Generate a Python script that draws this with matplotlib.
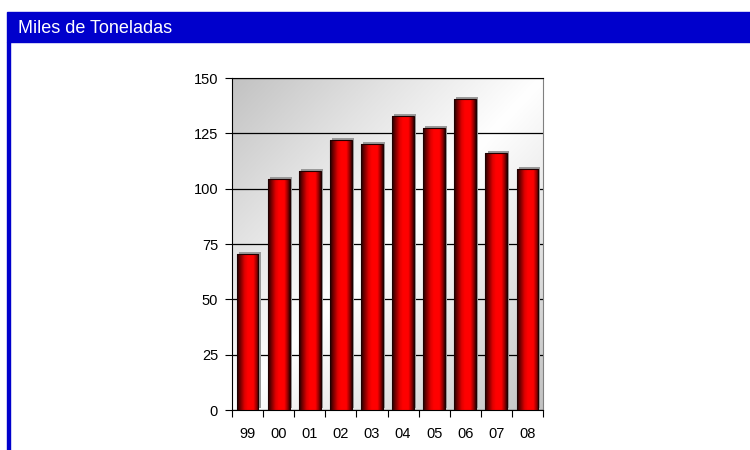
import matplotlib.pyplot as plt
import numpy as np
from matplotlib.colors import LinearSegmentedColormap
from matplotlib.patches import Rectangle
from matplotlib.transforms import ScaledTranslation

plt.rcParams['font.family'] = ['Liberation Sans', 'DejaVu Sans']
plt.rcParams['font.size'] = 10.5

years = ['99', '00', '01', '02', '03', '04', '05', '06', '07', '08']
tonnes = [70.5, 104.5, 108, 122, 120, 133, 127.5, 140.5, 116, 109]
title = 'Miles de Toneladas'

blue = '#0000cc'
bar_cmap = LinearSegmentedColormap.from_list('cyl', [
    (0.0, '#1a0000'), (0.12, '#600000'), (0.35, '#e00000'),
    (0.5, '#ff0000'), (0.75, '#ff0000'), (0.9, '#900000'), (1.0, '#300000')])
bg_cmap = LinearSegmentedColormap.from_list(
    'bg', [(0.0, '#ffffff'), (0.5, '#e2e2e2'), (1.0, '#c2c2c2')])

fig = plt.figure(figsize=(7.5, 4.5), dpi=100)

# header bar and left border
fig.patches.append(Rectangle((7 / 750, 408 / 450), 743 / 750, 30 / 450,
                             transform=fig.transFigure, color=blue, zorder=0))
fig.patches.append(Rectangle((7 / 750, 0), 3 / 750, 408 / 450,
                             transform=fig.transFigure, color=blue, zorder=0))
fig.text(18 / 750, 1 - 28.5 / 450, title, color='white', fontsize=13,
         va='center', ha='left')

ax = fig.add_axes([232 / 750, 40 / 450, 311 / 750, 332 / 450])
x = np.arange(len(years))
ax.set_xlim(-0.5, len(years) - 0.5)
ax.set_ylim(0, 150)

# diagonal gray background
gx, gy = np.meshgrid(np.linspace(0, 1, 200), np.linspace(1, 0, 200))
ax.imshow(np.abs(gx - gy), cmap=bg_cmap, vmin=0, vmax=1, aspect='auto',
          extent=(-0.5, len(years) - 0.5, 0, 150), zorder=0, interpolation='bilinear')

ax.set_yticks(np.arange(0, 151, 25))
ax.yaxis.grid(True, color='black', linewidth=0.9)
ax.set_axisbelow(True)

# shadow, gradient fill, outline
shadow = ax.transData + ScaledTranslation(1.5 / 72, 1.5 / 72, fig.dpi_scale_trans)
ax.bar(x, tonnes, width=0.7, color='#9a9a9a', transform=shadow, zorder=2)
bars = ax.bar(x, tonnes, width=0.7, facecolor='none', edgecolor='#200000',
              linewidth=0.8, zorder=4)
grad = np.linspace(0, 1, 256).reshape(1, -1)
for b in bars:
    im = ax.imshow(grad, cmap=bar_cmap, aspect='auto', zorder=3,
                   extent=(b.get_x(), b.get_x() + b.get_width(), 0, b.get_height()))
    im.set_clip_path(b)

ax.set_xticks(np.arange(len(years) + 1) - 0.5)
ax.set_xticklabels([])
ax.set_xticks(x, minor=True)
ax.set_xticklabels(years, minor=True)
ax.tick_params(axis='x', which='major', length=5, direction='out', color='black')
ax.tick_params(axis='x', which='minor', length=0, pad=12)
ax.tick_params(axis='y', length=5, direction='out', pad=5)

for s in ['left', 'bottom', 'top']:
    ax.spines[s].set_color('black')
ax.spines['right'].set_color('#808080')

fig.savefig('out.png', dpi=100)
